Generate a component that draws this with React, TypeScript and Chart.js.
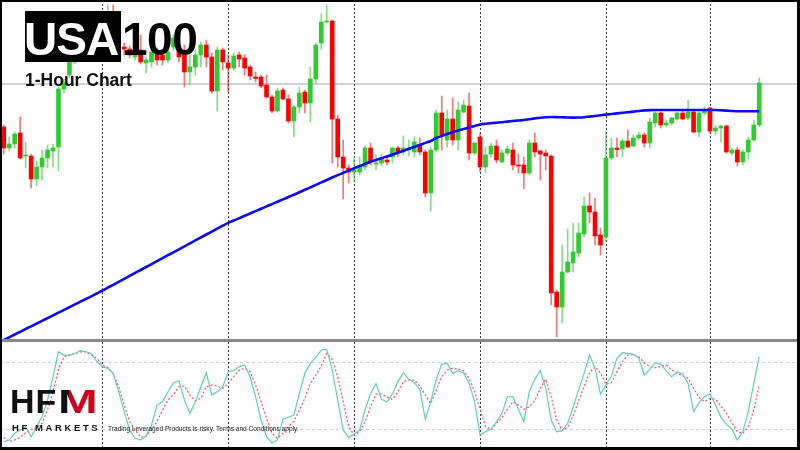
import React, { useEffect, useRef } from 'react';
import { Chart, registerables } from 'chart.js';

Chart.register(...registerables);

// ---- Price data (1-hour candles) ----
const OPEN = [
  15873, 15852, 15856, 15867, 15844, 15844, 15821, 15833, 15842, 15849,
  15853, 15911, 15925, 15938, 15955, 15965, 15958, 15970, 15978, 15972,
  15985, 15970, 15953, 15951, 15943, 15950, 15937, 15938, 15947, 15945,
  15940, 15953, 15953, 15945, 15928, 15933, 15945, 15955, 15943, 15909,
  15950, 15937, 15932, 15945, 15942, 15933, 15923, 15923, 15915, 15903,
  15889, 15910, 15901, 15879, 15893, 15908, 15897, 15921, 15957, 15978,
  15979, 15881, 15843, 15832, 15828, 15828, 15833, 15852, 15836, 15837,
  15840, 15843, 15852, 15848, 15850, 15848, 15855, 15848, 15807, 15850,
  15887, 15860, 15881, 15860, 15888, 15894, 15847, 15863, 15833, 15846,
  15854, 15838, 15847, 15850, 15835, 15835, 15827, 15857, 15849, 15847,
  15844, 15708, 15693, 15728, 15737, 15747, 15766, 15794, 15788, 15765,
  15763, 15842, 15852, 15851, 15859, 15854, 15862, 15865, 15857, 15877,
  15887, 15875, 15877, 15881, 15887, 15882, 15888, 15868, 15887, 15892,
  15869, 15872, 15874, 15847, 15850, 15838, 15848, 15860, 15875,
];
const HIGH = [
  15875, 15863, 15868, 15883, 15858, 15846, 15839, 15850, 15855, 15856,
  15913, 15921, 15943, 15960, 15970, 15972, 15975, 15982, 15985, 15995,
  15995, 15975, 15957, 15954, 15953, 15965, 15943, 15950, 15952, 15947,
  15952, 15965, 15957, 15955, 15945, 15950, 15958, 15960, 15947, 15953,
  15952, 15945, 15947, 15948, 15945, 15935, 15928, 15925, 15925, 15905,
  15912, 15912, 15905, 15895, 15913, 15910, 15933, 15957, 15986, 15995,
  15980, 15885, 15860, 15835, 15843, 15843, 15854, 15857, 15845, 15846,
  15843, 15853, 15854, 15864, 15860, 15863, 15862, 15850, 15853, 15890,
  15904, 15890, 15902, 15898, 15900, 15907, 15858, 15867, 15853, 15857,
  15860, 15850, 15854, 15857, 15846, 15843, 15860, 15867, 15850, 15850,
  15845, 15710, 15755, 15771, 15777, 15777, 15803, 15807, 15802, 15772,
  15868, 15862, 15862, 15861, 15870, 15865, 15868, 15867, 15882, 15888,
  15888, 15880, 15883, 15888, 15890, 15900, 15890, 15888, 15893, 15893,
  15875, 15875, 15875, 15852, 15853, 15850, 15863, 15880, 15922,
];
const LOW = [
  15846, 15849, 15852, 15841, 15832, 15812, 15814, 15820, 15832, 15833,
  15829, 15907, 15923, 15936, 15950, 15953, 15955, 15965, 15967, 15970,
  15965, 15952, 15945, 15942, 15940, 15936, 15927, 15933, 15935, 15935,
  15937, 15950, 15938, 15913, 15915, 15925, 15933, 15933, 15907, 15889,
  15930, 15908, 15930, 15933, 15925, 15920, 15918, 15912, 15902, 15887,
  15888, 15900, 15877, 15863, 15887, 15887, 15878, 15917, 15951, 15977,
  15837, 15833, 15801, 15817, 15818, 15825, 15830, 15835, 15830, 15834,
  15835, 15837, 15843, 15845, 15844, 15843, 15845, 15803, 15789, 15848,
  15850, 15853, 15855, 15850, 15887, 15840, 15845, 15828, 15827, 15843,
  15837, 15837, 15845, 15830, 15827, 15811, 15825, 15843, 15820, 15830,
  15695, 15663, 15677, 15727, 15728, 15743, 15763, 15777, 15755, 15745,
  15758, 15840, 15843, 15843, 15852, 15853, 15860, 15853, 15852, 15873,
  15872, 15873, 15875, 15880, 15880, 15880, 15867, 15863, 15885, 15867,
  15865, 15858, 15847, 15845, 15834, 15835, 15841, 15859, 15873,
];
const CLOSE = [
  15852, 15856, 15866, 15842, 15845, 15821, 15833, 15842, 15850, 15852,
  15911, 15917, 15938, 15955, 15965, 15958, 15970, 15978, 15972, 15985,
  15970, 15955, 15951, 15945, 15951, 15938, 15940, 15948, 15940, 15940,
  15948, 15962, 15943, 15928, 15933, 15945, 15955, 15943, 15909, 15950,
  15938, 15932, 15944, 15941, 15932, 15924, 15921.5, 15914, 15903, 15889,
  15909, 15901, 15879, 15893, 15907, 15897, 15921, 15955, 15978, 15979,
  15881, 15843, 15832, 15828, 15830, 15834, 15852, 15838, 15837, 15842,
  15838, 15852, 15848, 15852, 15852, 15858, 15848, 15807, 15850, 15887,
  15865, 15881, 15860, 15890, 15895, 15847, 15857, 15833, 15845, 15854,
  15840, 15847, 15851, 15835, 15834, 15827, 15857, 15848, 15846, 15844,
  15707, 15693, 15728, 15738, 15748, 15767, 15794, 15788, 15764, 15755,
  15842, 15852, 15850.5, 15859, 15853, 15862, 15865, 15857, 15878, 15887,
  15875, 15877, 15882, 15887, 15881, 15888, 15868, 15887, 15890, 15869,
  15872, 15874, 15848, 15850, 15838, 15848, 15860, 15875, 15917,
];
// Moving average (blue line)
const MA = [
  15660, 15662.7, 15665.5, 15668.2, 15671, 15673.7, 15676.4, 15679.1, 15681.9, 15684.6,
  15687.3, 15690.1, 15692.8, 15695.6, 15698.3, 15701, 15703.7, 15706.5, 15709.3, 15712.3,
  15715.2, 15718.2, 15721.1, 15724.1, 15727.1, 15730, 15733, 15735.9, 15738.9, 15741.8,
  15744.8, 15747.7, 15750.7, 15753.6, 15756.6, 15759.6, 15762.5, 15765.5, 15768.4, 15771.4,
  15774.3, 15777.1, 15779.5, 15781.8, 15784.2, 15786.5, 15788.9, 15791.2, 15793.6, 15795.9,
  15798.3, 15800.6, 15803, 15805.3, 15807.7, 15810.2, 15812.6, 15815.1, 15817.6, 15820,
  15822.5, 15824.9, 15827.1, 15829.4, 15831.7, 15833.9, 15836.1, 15838.2, 15840, 15841.8,
  15843.6, 15845.4, 15847.2, 15849.2, 15851.2, 15853.1, 15855.1, 15857.1, 15859, 15862,
  15864, 15866, 15867.7, 15869.5, 15871, 15872.5, 15874, 15875.4, 15876.2, 15876.8,
  15877.3, 15877.8, 15878.4, 15879, 15879.5, 15880, 15880.8, 15881.6, 15882.3, 15882.8,
  15883, 15882.9, 15882.7, 15882.5, 15882.4, 15882.5, 15882.8, 15883.4, 15884, 15884.7,
  15885.4, 15886, 15886.6, 15887.2, 15887.8, 15888.4, 15889, 15889.6, 15889.9, 15890,
  15890, 15890, 15890, 15890, 15890, 15890, 15890, 15890, 15890, 15890,
  15890, 15889.7, 15889.4, 15889, 15888.8, 15888.7, 15888.7, 15888.7, 15888.7,
];
// Stochastic oscillator
const STOCH_K = [
  8.4, 9.9, 16, 19, 22, 12.9, 22, 31, 46, 67,
  89.6, 86.6, 86.6, 88, 90.5, 89.6, 88, 80.6, 76, 74.6,
  70, 53.5, 35.5, 19, 11.5, 10, 13.5, 23.5, 41.5, 44.5,
  53.5, 61.6, 63.4, 46, 34, 44.5, 58, 70.7, 50.5, 53.5,
  58, 71.6, 72.5, 76, 77.6, 67, 49, 28, 12.9, 7,
  10, 28.6, 30.4, 32.5, 52, 70.1, 79.1, 84.5, 91.2, 91.8,
  73.1, 46, 19, 12.3, 15.3, 19, 37, 52, 61, 46.6,
  44.5, 51.4, 62.6, 70.7, 64.7, 61.7, 55.7, 28.6, 44.5, 64.7,
  78.5, 79.1, 70.1, 72.5, 70.7, 61, 44.5, 14.4, 17.4, 19.6,
  26.5, 34, 49, 49, 37.6, 26.5, 53.5, 64.7, 72.5, 56.6,
  28, 17.4, 18.4, 25, 39.4, 55, 70.1, 86.6, 74.6, 51.4,
  59.6, 67.7, 83.6, 88.7, 88.1, 87.5, 83.6, 68.6, 73.7, 79.7,
  78.2, 72.5, 67.1, 71.6, 69.5, 61, 35.5, 43.6, 49, 51.4,
  41.5, 30.4, 24, 19.6, 9.9, 17.4, 35.5, 61, 85.1,
];
const STOCH_D = [
  12.3, 8.4, 10, 12.3, 16.5, 19.6, 21, 25, 37, 53.5,
  73.7, 85, 86.6, 88, 89.4, 89.4, 86.6, 83.6, 77.6, 75.5,
  70, 58, 41.5, 26.5, 19, 12.3, 13.5, 19.6, 26.5, 37,
  46, 51, 58, 58.7, 50.5, 45.4, 47.6, 58, 59.6, 58.7,
  56.6, 61, 67, 73, 74.6, 71.6, 59.6, 44.5, 29.5, 16,
  11.5, 16, 22, 27, 37, 47.5, 61, 68.6, 76.7, 88.1,
  82.7, 67.1, 44.5, 22, 14.4, 17.4, 26.5, 40, 51.4, 51.4,
  49, 46.6, 53.5, 62.6, 64.1, 64.1, 58.7, 50.5, 43, 55,
  67.1, 73.1, 74.6, 74, 72.5, 65.6, 53.5, 37.6, 22, 19.6,
  25, 30.4, 37.6, 44.5, 41.5, 37.6, 40, 45.4, 56.6, 64.7,
  49, 28, 18.4, 21.4, 31.6, 45.4, 58, 70.7, 76.1, 70.7,
  60.2, 61.7, 71.6, 80.6, 86.6, 86.9, 85.1, 79.7, 76.1, 75.2,
  76.1, 77.6, 73.1, 70.1, 68, 65.6, 56.6, 48.4, 44.5, 47.5,
  46.6, 40.6, 34, 25, 17.4, 15.9, 22, 37, 59.6,
];
const DAY_STARTS = [18, 41, 64, 87, 110, 129];
const LEVEL_PRICE = 15916;
const STOCH_LEVELS = [80, 20];
const CATEGORIES = OPEN.map((_, i) => `H${i + 1}`);

const GREEN = '#2ecc2e';
const RED = '#ff0000';
const GREEN_WICK = 'rgba(46,204,46,0.6)';
const RED_WICK = 'rgba(255,0,0,0.55)';
const FONT = '"Liberation Sans", Arial, Helvetica, sans-serif';

const PAD = { left: 1, right: 38, top: 0, bottom: 0 };

function drawVerticals(chart: any) {
  const { ctx, scales } = chart;
  const x = scales.x;
  ctx.save();
  ctx.strokeStyle = '#3a3a3a';
  ctx.lineWidth = 1;
  ctx.setLineDash([2, 2]);
  for (const i of DAY_STARTS) {
    const xp = Math.round(x.getPixelForValue(i)) + 0.5;
    ctx.beginPath();
    ctx.moveTo(xp, 0);
    ctx.lineTo(xp, chart.height);
    ctx.stroke();
  }
  ctx.restore();
}

const mainGuides = {
  id: 'mainGuides',
  beforeDatasetsDraw(chart: any) {
    const { ctx, scales } = chart;
    const yp = scales.y.getPixelForValue(LEVEL_PRICE);
    ctx.save();
    ctx.strokeStyle = '#c4c4c4';
    ctx.lineWidth = 1.5;
    ctx.beginPath();
    ctx.moveTo(0, yp);
    ctx.lineTo(chart.width, yp);
    ctx.stroke();
    ctx.restore();
    drawVerticals(chart);
  },
};

const stochGuides = {
  id: 'stochGuides',
  beforeDatasetsDraw(chart: any) {
    const { ctx, scales } = chart;
    ctx.save();
    ctx.strokeStyle = '#cfcfcf';
    ctx.lineWidth = 1;
    ctx.setLineDash([3, 3]);
    for (const lv of STOCH_LEVELS) {
      const yp = Math.round(scales.y.getPixelForValue(lv)) + 0.5;
      ctx.beginPath();
      ctx.moveTo(0, yp);
      ctx.lineTo(chart.width, yp);
      ctx.stroke();
    }
    ctx.restore();
    drawVerticals(chart);
  },
};

export default function App() {
  const mainRef = useRef<HTMLCanvasElement>(null);
  const stochRef = useRef<HTMLCanvasElement>(null);

  useEffect(() => {
    const bodyColors = OPEN.map((o, i) => (CLOSE[i] >= o ? GREEN : RED));
    const wickColors = OPEN.map((o, i) => (CLOSE[i] >= o ? GREEN_WICK : RED_WICK));

    const main = new Chart(mainRef.current as HTMLCanvasElement, {
      type: 'bar',
      data: {
        labels: CATEGORIES,
        datasets: [
          {
            type: 'bar',
            label: 'Wick',
            data: LOW.map((l, i) => [l, HIGH[i]]) as any,
            backgroundColor: wickColors,
            borderWidth: 0,
            barThickness: 1,
            grouped: false,
            order: 3,
          },
          {
            type: 'bar',
            label: 'Body',
            data: OPEN.map((o, i) => [o, CLOSE[i]]) as any,
            backgroundColor: bodyColors,
            borderWidth: 0,
            barThickness: 4,
            grouped: false,
            order: 2,
          },
          {
            type: 'line',
            label: 'MA',
            data: MA,
            borderColor: '#0a0aff',
            borderWidth: 2.6,
            pointRadius: 0,
            cubicInterpolationMode: 'monotone',
            order: 1,
          } as any,
        ],
      },
      options: {
        responsive: false,
        maintainAspectRatio: false,
        animation: false,
        devicePixelRatio: 1,
        layout: { padding: PAD },
        plugins: { legend: { display: false }, tooltip: { enabled: false } },
        scales: {
          x: { display: false, offset: true, grid: { display: false } },
          y: { display: false, min: 15660, max: 16000 },
        },
      },
      plugins: [mainGuides],
    });

    const stoch = new Chart(stochRef.current as HTMLCanvasElement, {
      type: 'line',
      data: {
        labels: CATEGORIES,
        datasets: [
          {
            label: '%D',
            data: STOCH_D,
            borderColor: 'rgba(255,70,70,0.95)',
            borderWidth: 1.2,
            borderDash: [2, 2],
            pointRadius: 0,
            tension: 0,
            order: 2,
          },
          {
            label: '%K',
            data: STOCH_K,
            borderColor: 'rgb(92,206,200)',
            borderWidth: 1.2,
            pointRadius: 0,
            tension: 0,
            order: 1,
          },
        ],
      },
      options: {
        responsive: false,
        maintainAspectRatio: false,
        animation: false,
        devicePixelRatio: 1,
        layout: { padding: PAD },
        plugins: { legend: { display: false }, tooltip: { enabled: false } },
        scales: {
          x: { display: false, offset: true, grid: { display: false } },
          y: { display: false, min: 3.6, max: 98.4 },
        },
      },
      plugins: [stochGuides],
    });

    return () => {
      main.destroy();
      stoch.destroy();
    };
  }, []);

  return (
    <div
      style={{
        position: 'fixed',
        left: 0,
        top: 0,
        width: 800,
        height: 450,
        background: '#ffffff',
        overflow: 'hidden',
        fontFamily: FONT,
      }}
    >
      <canvas
        ref={mainRef}
        width={800}
        height={340}
        style={{ position: 'absolute', left: 0, top: 0, width: 800, height: 340, display: 'block' }}
      />
      <canvas
        ref={stochRef}
        width={800}
        height={105}
        style={{ position: 'absolute', left: 0, top: 342, width: 800, height: 105, display: 'block' }}
      />
      {/* window separator */}
      <div style={{ position: 'absolute', left: 0, top: 339, width: 800, height: 3, background: '#8a8a8a' }} />

      {/* Title */}
      <div style={{ position: 'absolute', left: 25, top: 11, width: 96, height: 51, background: '#000' }} />
      <div
        style={{
          position: 'absolute',
          left: 24,
          top: 15.6,
          fontSize: 46,
          lineHeight: '46px',
          fontWeight: 700,
          color: '#fff',
          letterSpacing: -1,
          whiteSpace: 'nowrap',
        }}
      >
        USA
      </div>
      <div
        style={{
          position: 'absolute',
          left: 122,
          top: 15.6,
          fontSize: 46,
          lineHeight: '46px',
          fontWeight: 700,
          color: '#000',
          letterSpacing: -0.5,
          whiteSpace: 'nowrap',
        }}
      >
        100
      </div>
      <div
        style={{
          position: 'absolute',
          left: 25,
          top: 72,
          fontSize: 17.5,
          lineHeight: '17.5px',
          fontWeight: 700,
          color: '#111',
          whiteSpace: 'nowrap',
        }}
      >
        1-Hour Chart
      </div>

      {/* Logo */}
      <div
        style={{
          position: 'absolute',
          left: 10,
          top: 384,
          fontSize: 34,
          lineHeight: '34px',
          fontWeight: 700,
          color: '#111',
          whiteSpace: 'nowrap',
          letterSpacing: 1,
        }}
      >
        HF
        <span
          style={{
            display: 'inline-block',
            transform: 'scaleX(1.4)',
            transformOrigin: 'left center',
            marginLeft: 1,
            background: 'linear-gradient(90deg, #111 0%, #111 28%, #d0021b 28%, #d0021b 100%)',
            WebkitBackgroundClip: 'text',
            backgroundClip: 'text',
            color: 'transparent',
          }}
        >
          M
        </span>
      </div>
      <div
        style={{
          position: 'absolute',
          left: 12,
          top: 423,
          fontSize: 9.5,
          lineHeight: '9.5px',
          fontWeight: 700,
          color: '#111',
          letterSpacing: 2.6,
          whiteSpace: 'nowrap',
        }}
      >
        HF MARKETS
      </div>
      <div
        style={{
          position: 'absolute',
          left: 108,
          top: 426,
          fontSize: 6.6,
          lineHeight: '6.6px',
          color: '#222',
          whiteSpace: 'nowrap',
        }}
      >
        Trading Leveraged Products is risky. Terms and Conditions apply.
      </div>

      {/* outer frame */}
      <div
        style={{
          position: 'absolute',
          left: 0,
          top: 0,
          width: 800,
          height: 450,
          boxSizing: 'border-box',
          borderStyle: 'solid',
          borderColor: '#000',
          borderWidth: '2px 3px 3px 2px',
          pointerEvents: 'none',
        }}
      />
    </div>
  );
}
